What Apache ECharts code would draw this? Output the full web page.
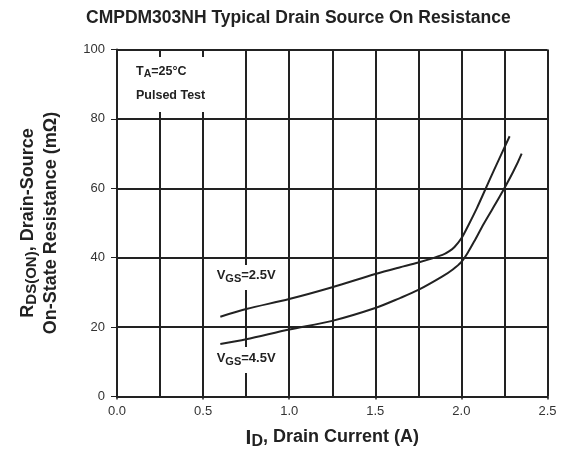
<!DOCTYPE html>
<html>
<head>
<meta charset="utf-8">
<script src="https://cdn.jsdelivr.net/npm/echarts@6/dist/echarts.min.js"></script>
<style>
html, body { margin: 0; padding: 0; background: #fff; }
#main { width: 562px; height: 452px; }
</style>
</head>
<body>
<div id="main"></div>
<script>
// tick labels
var xTicks = [0, 0.5, 1.0, 1.5, 2.0, 2.5];
var yTicks = [0, 20, 40, 60, 80, 100];

// VGS = 2.5V curve (I_D in A, R in mOhm)
var id25 = [0.6, 0.75, 1.0, 1.25, 1.5, 1.64, 1.75, 1.89, 1.93, 1.96, 2.0, 2.04, 2.09, 2.14, 2.19, 2.28];
var r25  = [23.0, 25.2, 28.1, 31.5, 35.3, 37.2, 38.6, 40.8, 41.9, 43.1, 45.6, 49.3, 54.3, 59.8, 65.3, 75.0];

// VGS = 4.5V curve
var id45 = [0.6, 0.75, 1.0, 1.25, 1.5, 1.64, 1.75, 1.89, 1.95, 2.0, 2.04, 2.08, 2.13, 2.22, 2.3, 2.35];
var r45  = [15.1, 16.5, 19.3, 21.8, 25.5, 28.3, 30.7, 34.6, 36.6, 38.8, 41.7, 45.2, 49.8, 57.4, 64.7, 70.0];

var font = 'Liberation Sans, Arial, sans-serif';
var ink = '#222';

function pairs(xs, ys) {
    return xs.map(function (x, i) { return [x, ys[i]]; });
}

var myChart = echarts.init(document.getElementById('main'));

myChart.setOption({
    animation: false,
    title: {
        text: 'CMPDM303NH Typical Drain Source On Resistance',
        left: 86,
        top: 9,
        padding: 0,
        textStyle: { fontFamily: font, fontSize: 17.5, fontWeight: 'bold', color: ink }
    },
    grid: {
        left: 117, right: 14.5, top: 49.5, bottom: 55.5,
        containLabel: false,
        outerBoundsMode: 'none'
    },
    xAxis: {
        type: 'value',
        min: xTicks[0],
        max: xTicks[xTicks.length - 1],
        interval: xTicks[1] - xTicks[0],
        name: '{b|I}{s|D}{m|, Drain Current (A)}',
        nameLocation: 'middle',
        nameGap: 31,
        nameTextStyle: {
            fontFamily: font, fontWeight: 'bold', color: ink,
            rich: {
                b: { fontFamily: font, fontWeight: 'bold', fontSize: 21, lineHeight: 22, verticalAlign: 'top', color: ink },
                s: { fontFamily: font, fontWeight: 'bold', fontSize: 16, lineHeight: 22, padding: [6, 0, 0, 0], verticalAlign: 'top', color: ink },
                m: { fontFamily: font, fontWeight: 'bold', fontSize: 18, lineHeight: 22, padding: [1, 0, 0, 0], verticalAlign: 'top', color: ink }
            }
        },
        axisLine: { show: true, lineStyle: { color: ink, width: 2 } },
        axisTick: { show: true, length: 3, lineStyle: { color: ink, width: 1.5 } },
        axisLabel: {
            margin: 8,
            fontFamily: font, fontSize: 13, color: '#333',
            formatter: function (v) { return v.toFixed(1); }
        },
        splitLine: { show: true, lineStyle: { color: ink, width: 2 } },
        minorTick: { show: false, splitNumber: 2 },
        minorSplitLine: { show: true, lineStyle: { color: ink, width: 2 } }
    },
    yAxis: {
        type: 'value',
        min: yTicks[0],
        max: yTicks[yTicks.length - 1],
        interval: yTicks[1] - yTicks[0],
        name: '{m|R}{s|DS(ON)}{m|, Drain-Source}\n{p|On-State Resistance (mΩ)}',
        nameLocation: 'middle',
        nameRotate: 90,
        nameGap: 50,
        nameTextStyle: {
            fontFamily: font, fontWeight: 'bold', color: ink,
            rich: {
                m: { fontFamily: font, fontWeight: 'bold', fontSize: 18, lineHeight: 16, verticalAlign: 'top', color: ink },
                s: { fontFamily: font, fontWeight: 'bold', fontSize: 15, lineHeight: 16, padding: [5, 0, 0, 0], verticalAlign: 'top', color: ink },
                p: { fontFamily: font, fontWeight: 'bold', fontSize: 18, lineHeight: 32, verticalAlign: 'middle', color: ink }
            }
        },
        axisLine: { show: true, lineStyle: { color: ink, width: 2 } },
        axisTick: { show: true, length: 6, lineStyle: { color: ink, width: 1 } },
        axisLabel: { margin: 12, fontFamily: font, fontSize: 13, color: '#333' },
        splitLine: { show: true, lineStyle: { color: ink, width: 2 } }
    },
    graphic: [
        {
            type: 'text', x: 128, y: 57, z: 100,
            style: {
                text: '{m|T}{s|A}{m|=25°C}\n{p|Pulsed Test}',
                backgroundColor: '#fff',
                padding: [8, 7, 0, 8],
                rich: {
                    m: { fontFamily: font, fontWeight: 'bold', fontSize: 12.5, lineHeight: 15, verticalAlign: 'top', fill: ink },
                    s: { fontFamily: font, fontWeight: 'bold', fontSize: 10.5, lineHeight: 15, padding: [4, 0, 0, 0], verticalAlign: 'top', fill: ink },
                    p: { fontFamily: font, fontWeight: 'bold', fontSize: 12.5, lineHeight: 32, verticalAlign: 'middle', fill: ink }
                }
            }
        },
        {
            type: 'text', x: 212.7, y: 265, z: 100,
            style: {
                text: '{m|V}{s|GS}{m|=2.5V}',
                backgroundColor: '#fff',
                padding: [4, 4, 6, 4],
                rich: {
                    m: { fontFamily: font, fontWeight: 'bold', fontSize: 13, lineHeight: 15, verticalAlign: 'top', fill: ink },
                    s: { fontFamily: font, fontWeight: 'bold', fontSize: 11, lineHeight: 15, padding: [4, 0, 0, 0], verticalAlign: 'top', fill: ink }
                }
            }
        },
        {
            type: 'text', x: 212.7, y: 347, z: 100,
            style: {
                text: '{m|V}{s|GS}{m|=4.5V}',
                backgroundColor: '#fff',
                padding: [5, 4, 6, 4],
                rich: {
                    m: { fontFamily: font, fontWeight: 'bold', fontSize: 13, lineHeight: 15, verticalAlign: 'top', fill: ink },
                    s: { fontFamily: font, fontWeight: 'bold', fontSize: 11, lineHeight: 15, padding: [4, 0, 0, 0], verticalAlign: 'top', fill: ink }
                }
            }
        }
    ],
    series: [
        {
            name: 'VGS=2.5V', type: 'line', smooth: 0.3, showSymbol: false, z: 5,
            lineStyle: { color: ink, width: 2 },
            data: pairs(id25, r25)
        },
        {
            name: 'VGS=4.5V', type: 'line', smooth: 0.3, showSymbol: false, z: 5,
            lineStyle: { color: ink, width: 2 },
            data: pairs(id45, r45)
        }
    ]
});
</script>
</body>
</html>
